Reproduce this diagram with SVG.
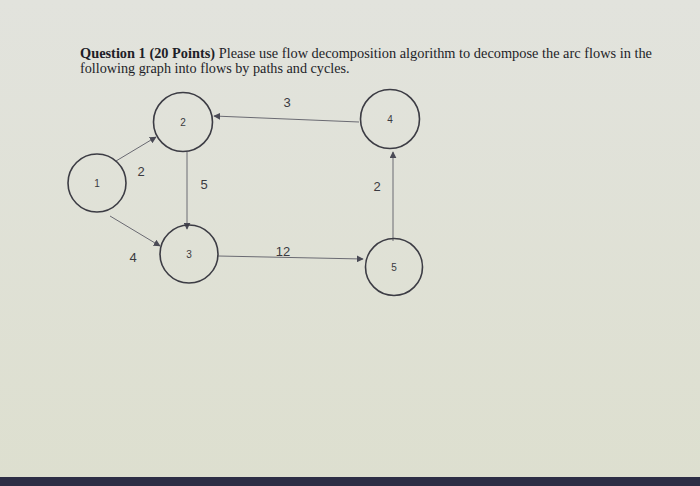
<svg xmlns="http://www.w3.org/2000/svg" width="700" height="486" viewBox="0 0 700 486">
<defs>
<linearGradient id="bg" x1="0" y1="0" x2="0" y2="1">
<stop offset="0" stop-color="#e2e3dd"/>
<stop offset="1" stop-color="#dddfcf"/>
</linearGradient>
<marker id="ah" viewBox="0 0 10 10" refX="9" refY="5" markerWidth="7" markerHeight="7" orient="auto" markerUnits="userSpaceOnUse">
<path d="M0,0 L10,5 L0,10 z" fill="#4a4a55"/>
</marker>
</defs>
<style>
.node circle{fill:none;stroke:#3c3c44;stroke-width:1.6}
.node text{font-family:"Liberation Sans",Arial,sans-serif;font-size:10px;fill:#3a3a40;text-anchor:middle}
.edge{stroke:#6a6a72;stroke-width:1;fill:none;marker-end:url(#ah)}
.lbl{font-family:"Liberation Sans",Arial,sans-serif;font-size:13px;fill:#3a3a40;text-anchor:middle}
.title{font-family:"Liberation Serif","Times New Roman",serif;font-size:14.2px;fill:#1e1e28}
</style>
<rect width="700" height="486" fill="url(#bg)"/>
<rect x="0" y="477" width="700" height="9" fill="#2d2e45"/>
<text class="title" x="80" y="58" textLength="572" lengthAdjust="spacingAndGlyphs"><tspan font-weight="bold">Question 1 (20 Points)</tspan> Please use flow decomposition algorithm to decompose the arc flows in the</text>
<text class="title" x="80" y="72.5">following graph into flows by paths and cycles.</text>
<g id="connectors">
<line class="edge" x1="116" y1="161" x2="156" y2="137"/>
<line class="edge" x1="110" y1="216" x2="160" y2="246"/>
<line class="edge" x1="187" y1="152" x2="187" y2="229"/>
<line class="edge" x1="359" y1="122" x2="214" y2="116"/>
<line class="edge" x1="218" y1="256" x2="363" y2="259"/>
<line class="edge" x1="393" y1="241" x2="393" y2="152"/>
<text class="lbl" x="141" y="176">2</text>
<text class="lbl" x="204" y="189">5</text>
<text class="lbl" x="287" y="107">3</text>
<text class="lbl" x="377" y="191">2</text>
<text class="lbl" x="133" y="262">4</text>
<text class="lbl" x="283" y="256">12</text>
</g>
<g id="node1" class="node"><circle cx="97" cy="183" r="29"/><text x="97" y="187">1</text></g>
<g id="node2" class="node"><circle cx="183" cy="122" r="29.5"/><text x="183" y="126">2</text></g>
<g id="node3" class="node"><circle cx="189" cy="254" r="29"/><text x="189" y="258">3</text></g>
<g id="node4" class="node"><circle cx="390" cy="119" r="29.5"/><text x="390" y="123">4</text></g>
<g id="node5" class="node"><circle cx="394" cy="267" r="28.5"/><text x="394" y="271">5</text></g>
</svg>
